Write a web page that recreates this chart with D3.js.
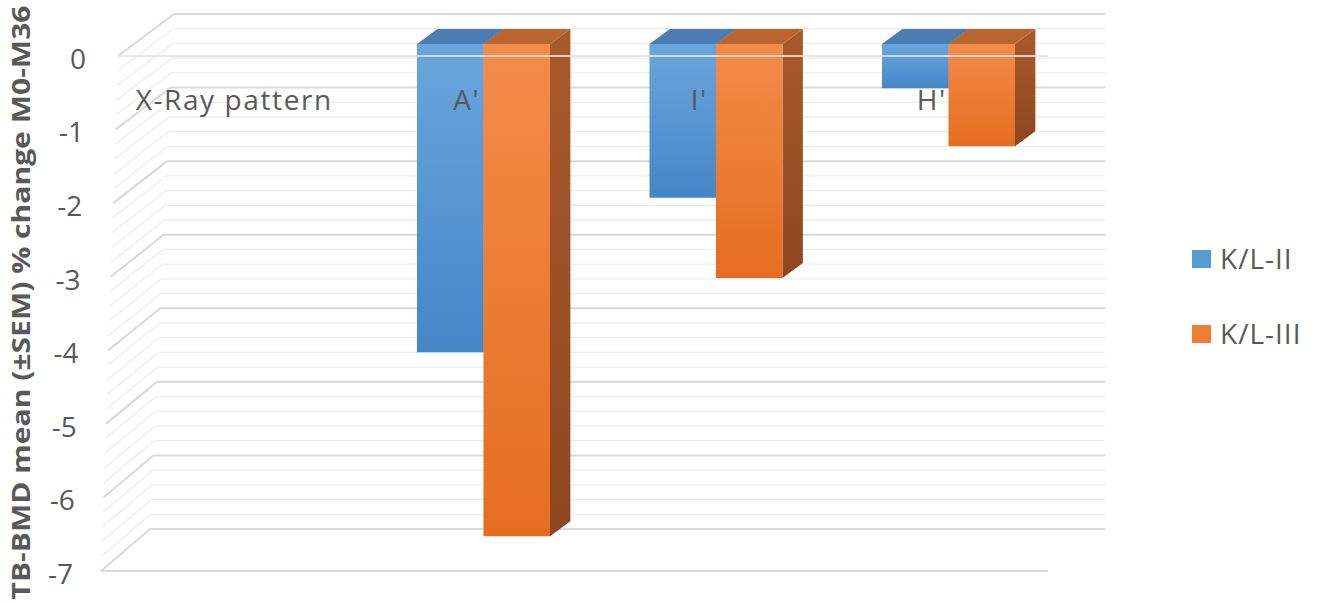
<!DOCTYPE html>
<html><head><meta charset="utf-8">
<script src="https://cdn.jsdelivr.net/npm/d3@7"></script>
<style>body{margin:0;background:#fff}svg{display:block}</style>
</head><body>
<script>
const categories = ["X-Ray pattern", "A'", "I'", "H'"];
const seriesNames = ["K/L-II", "K/L-III"];
const klII  = [null, -4.19, -2.09, -0.60];
const klIII = [null, -6.69, -3.18, -1.39];
const yTicks = [0, -1, -2, -3, -4, -5, -6, -7];

const W = 1318, H = 603;
const svg = d3.select("body").append("svg").attr("width", W).attr("height", H);
const defs = svg.append("defs");

const y = d3.scaleLinear().domain([0, -7]).range([56, 571]);
const x = d3.scaleBand().domain(categories).range([118, 1048]);
const xs = d3.scaleBand().domain(seriesNames).range([0.216, 0.788]);
const depthX = d3.scaleLinear().domain([0, 1]).range([0, 57]);
const depthY = d3.scaleLinear().domain([0, 1]).range([0, -42]);
const leftFront = d3.scaleLinear().domain([0, -7]).range([118, 101]);
const leftBack = d3.scaleLinear().domain([0, -7]).range([174, 150]);
const labelRight = d3.scaleLinear().domain([0, -7]).range([86, 73]);
const backRight = 1105;

const font = "'Open Sans', 'Segoe UI', sans-serif";
const textCol = "#595959";

function grad(id, c1, c2) {
  const g = defs.append("linearGradient").attr("id", id).attr("x1", 0).attr("y1", 0).attr("x2", 0).attr("y2", 1);
  g.append("stop").attr("offset", "0%").attr("stop-color", c1);
  g.append("stop").attr("offset", "100%").attr("stop-color", c2);
}
grad("blueFront", "#6AA6DD", "#4586C8");
grad("orangeFront", "#F38C4A", "#E56D1F");
grad("orangeSide", "#A95A2C", "#8E4620");
grad("blueSide", "#3F6E9E", "#2F5A86");

// gridlines (back wall + side wall)
const minor = d3.range(0, 36).map(i => -i * 0.2);
const grid = svg.append("g");
minor.forEach(v => {
  const isMajor = Math.abs(v - Math.round(v)) < 1e-6;
  const col = isMajor ? "#D9D9D9" : "#ECECEC";
  const sw = isMajor ? 2 : 1.3;
  grid.append("line")
    .attr("x1", leftBack(v)).attr("x2", backRight)
    .attr("y1", y(v) + depthY(1)).attr("y2", y(v) + depthY(1))
    .attr("stroke", col).attr("stroke-width", sw);
  grid.append("line")
    .attr("x1", leftFront(v)).attr("y1", y(v))
    .attr("x2", leftBack(v)).attr("y2", y(v) + depthY(1))
    .attr("stroke", col).attr("stroke-width", sw);
});
grid.append("line")
  .attr("x1", leftFront(-7)).attr("x2", x.range()[1])
  .attr("y1", y(-7)).attr("y2", y(-7))
  .attr("stroke", "#D9D9D9").attr("stroke-width", 2);

// tick labels
svg.append("g").selectAll("text").data(yTicks).join("text")
  .attr("x", d => labelRight(d)).attr("y", d => y(d) + 3).attr("dy", "0.35em")
  .attr("text-anchor", "end")
  .attr("font-family", font).attr("font-size", 28).attr("fill", textCol)
  .text(d => d === 0 ? "0" : "-" + Math.abs(d));

// bars
const dF = 12 / 42, dB = 27 / 42;
const bars = svg.append("g");
const seriesData = [klII, klIII];
const fronts = ["url(#blueFront)", "url(#orangeFront)"];
const tops = ["#4A7DB3", "#B9652F"];
const sides = ["url(#blueSide)", "url(#orangeSide)"];
categories.forEach((c, ci) => {
  seriesNames.forEach((s, si) => {
    const v = seriesData[si][ci];
    if (v == null) return;
    const xl = x(c) + xs(s) * x.bandwidth();
    const xr = xl + xs.bandwidth() * x.bandwidth();
    const P = (xx, vv, d) => [xx + depthX(d), y(vv) + depthY(d)];
    const poly = pts => pts.map(p => p.join(",")).join(" ");
    bars.append("polygon")
      .attr("points", poly([P(xr, 0, dF), P(xr, 0, dB), P(xr, v, dB), P(xr, v, dF)]))
      .attr("fill", sides[si]);
    bars.append("polygon")
      .attr("points", poly([P(xl, 0, dF), P(xr, 0, dF), P(xr, v, dF), P(xl, v, dF)]))
      .attr("fill", fronts[si]);
    bars.append("polygon")
      .attr("points", poly([P(xl, 0, dF), P(xl, 0, dB), P(xr, 0, dB), P(xr, 0, dF)]))
      .attr("fill", tops[si]);
  });
});

// zero front line drawn over bars
svg.append("line")
  .attr("x1", leftFront(0)).attr("x2", x.range()[1])
  .attr("y1", y(0)).attr("y2", y(0))
  .attr("stroke", "#E4E4E4").attr("stroke-opacity", 0.85).attr("stroke-width", 2.2);

// category labels (on top of bars)
svg.append("g").selectAll("text").data(categories).join("text")
  .attr("x", d => x(d) + x.bandwidth() / 2).attr("y", y(0) + 44).attr("dy", "0.35em")
  .attr("text-anchor", "middle")
  .attr("font-family", font).attr("font-size", 28).attr("letter-spacing", 1.6)
  .attr("fill", textCol)
  .text(d => d);

// y axis title
svg.append("text")
  .attr("transform", `translate(30,${H / 2 + 1}) rotate(-90)`)
  .attr("text-anchor", "middle")
  .attr("font-family", font).attr("font-size", 25).attr("font-weight", "bold").attr("fill", textCol)
  .attr("textLength", 594).attr("lengthAdjust", "spacingAndGlyphs")
  .text("TB-BMD mean (±SEM) % change M0-M36");

// legend
const lg = svg.append("g");
const legY = d3.scaleBand().domain(seriesNames).range([221.5, 371.5]);
const legCols = ["#5B9BD5", "#ED7D31"];
seriesNames.forEach((s, i) => {
  const cy = legY(s) + legY.bandwidth() / 2;
  lg.append("rect").attr("x", 1192).attr("y", cy - 9).attr("width", 19).attr("height", 18).attr("fill", legCols[i]);
  lg.append("text").attr("x", 1220).attr("y", cy).attr("dy", "0.35em")
    .attr("font-family", font).attr("font-size", 28).attr("letter-spacing", 1).attr("fill", textCol).text(s);
});
</script>
</body></html>
